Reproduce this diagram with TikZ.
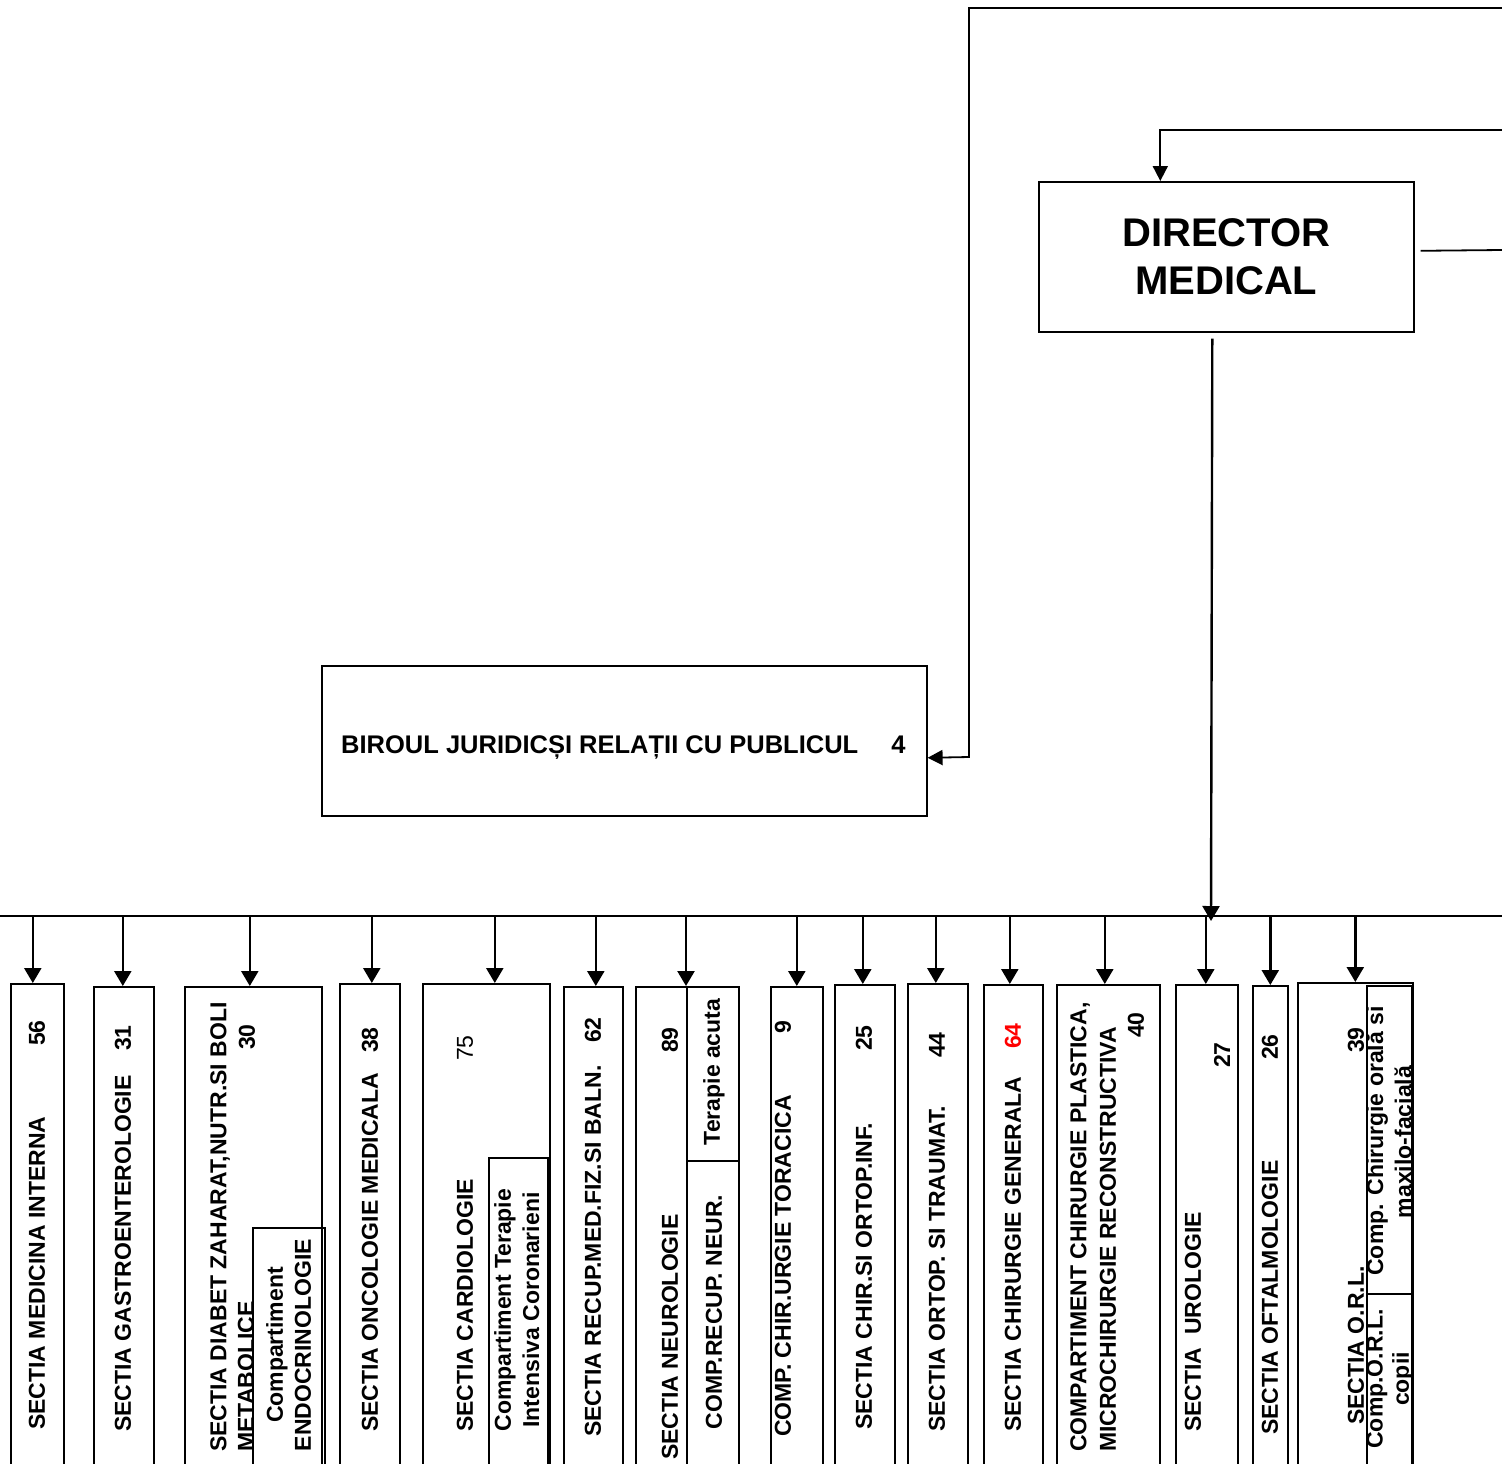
\documentclass[tikz,border=0pt]{standalone}
\usepackage{fontspec}
\setmainfont{Liberation Sans}
\usepackage{xcolor}
\definecolor{org-black}{HTML}{000000}
\definecolor{org-red}{HTML}{FF0000}
\usepackage{tikz}
\usetikzlibrary{arrows.meta}

\tikzset{
    unitbox/.style={draw=org-black, line width=1.6pt, inner sep=0pt, anchor=north west},
    vlabel/.style={rotate=90, inner sep=0pt, font=\bfseries\fontsize{23}{26}\selectfont},
    conn/.style={draw=org-black, line width=1.8pt},
    arr/.style={draw=org-black, line width=2.4pt, -{Triangle[length=15pt, width=17pt]}},
    arrsm/.style={conn, -{Triangle[length=15pt, width=15pt]}},
}

\begin{document}
\begin{tikzpicture}[x=1pt, y=-1pt]

    % Page
    \useasboundingbox (0,0) rectangle (1502,1464);
    \clip (0,0) rectangle (1502,1464);

    % Director medical
    \node[unitbox, minimum width=375pt, minimum height=150pt, align=center,
          font=\bfseries\fontsize{40}{48}\selectfont] (dirmed) at (1038,181) {DIRECTOR\\MEDICAL};

    % Biroul juridic
    \node[unitbox, minimum width=605pt, minimum height=150pt] (birou) at (321,665) {};
    \node[anchor=west, inner sep=0pt, text depth=0pt, font=\bfseries\fontsize{25.5}{30}\selectfont]
          (birou-l) at (341,745) {BIROUL JURIDICȘI RELAȚII CU PUBLICUL\hspace{33pt}4};

    % Lines from the right edge
    \coordinate (edge-top) at (1502,8);
    \coordinate (edge-mid) at (1502,130);
    \coordinate (edge-dir) at (1502,250);
    \coordinate (bend-top) at (969,8);
    \coordinate (bend-low) at (969,757);
    \coordinate (dir-in) at ([xshift=-66pt]dirmed.north);
    \coordinate (dir-out) at ([xshift=-14pt,yshift=-6pt]dirmed.south);
    \coordinate (bus) at (0,916);
    \coordinate (bus-end) at (1502,916);
    \coordinate (bus-in) at (1211,921);

    \draw[arrsm] (edge-top) -- (bend-top) -- (bend-low) -- ([yshift=-17pt]birou.east);
    \draw[arrsm] (edge-mid) -| (dir-in);
    \draw[conn] ([xshift=6pt,yshift=6pt]dirmed.east) -- (edge-dir);
    \draw[arr] (dir-out) -- (bus-in);
    \draw[conn] (bus) -- (bus-end);

    % Sections
    \node[unitbox, minimum width=53pt, minimum height=500pt] (mi) at (10,983) {};
    \node[unitbox, minimum width=60pt, minimum height=500pt] (gastro) at (93,986) {};
    \node[unitbox, minimum width=137pt, minimum height=500pt] (diabet) at (184,986) {};
    \node[unitbox, minimum width=72pt, minimum height=260pt] (endo) at (252,1227) {};
    \node[unitbox, minimum width=60pt, minimum height=500pt] (onco) at (339,983) {};
    \node[unitbox, minimum width=127pt, minimum height=500pt] (cardio) at (422,983) {};
    \node[unitbox, minimum width=59pt, minimum height=330pt] (ticor) at (488,1157) {};
    \node[unitbox, minimum width=59pt, minimum height=500pt] (recup) at (563,986) {};
    \node[unitbox, minimum width=103pt, minimum height=500pt] (neuro) at (635,986) {};
    \node[unitbox, minimum width=52pt, minimum height=174pt] (acuta) at (686,986) {};
    \node[unitbox, minimum width=52pt, minimum height=330pt] (recneur) at (686,1160) {};
    \node[unitbox, minimum width=52pt, minimum height=500pt] (torac) at (770,986) {};
    \node[unitbox, minimum width=60pt, minimum height=500pt] (ortinf) at (834,984) {};
    \node[unitbox, minimum width=60pt, minimum height=500pt] (traum) at (907,983) {};
    \node[unitbox, minimum width=59pt, minimum height=500pt] (chirgen) at (983,984) {};
    \node[unitbox, minimum width=103pt, minimum height=500pt] (plast) at (1056,984) {};
    \node[unitbox, minimum width=62pt, minimum height=500pt] (uro) at (1175,984) {};
    \node[unitbox, minimum width=35pt, minimum height=500pt] (oftal) at (1252,985) {};
    \node[unitbox, minimum width=115pt, minimum height=500pt] (orl) at (1297,982) {};
    \node[unitbox, minimum width=45pt, minimum height=308pt] (maxilo) at (1366,985) {};
    \node[unitbox, minimum width=45pt, minimum height=200pt] (orlcopii) at (1366,1293) {};

    % Arrows from the bus
    \foreach \sec/\dx in {mi.north/-4.5, gastro.north/-1, diabet.north/-3.5, onco.north/2,
                          cardio.north/8.5, recup.north/2.5, acuta.north west/0,
                          torac.north/0, ortinf.north/-2, traum.north/-2, chirgen.north/-3.5,
                          plast.north/-3.5, uro.north/-1, oftal.north/0, orl.north/0} {
        \coordinate (tip) at ([xshift=\dx pt]\sec);
        \draw[arr] (tip |- bus) -- (tip);
    }

    % Labels
    \node[vlabel, anchor=west] (mi-l) at (37,1430) {SECTIA MEDICINA INTERNA};
    \node[vlabel] (mi-n) at (37,1033) {56};
    \node[vlabel, anchor=west] (gastro-l) at (123,1432) {SECTIA GASTROENTEROLOGIE};
    \node[vlabel] (gastro-n) at (123,1038) {31};
    \node[vlabel, anchor=west] (diabet-l1) at (220,1452) {SECTIA DIABET ZAHARAT,NUTR.SI BOLI};
    \node[vlabel, anchor=west] (diabet-l2) at (246,1452) {METABOLICE};
    \node[vlabel] (diabet-n) at (247,1037) {30};
    \node[vlabel] (endo-l1) at (277,1345) {Compartiment};
    \node[vlabel] (endo-l2) at (303,1345) {ENDOCRINOLOGIE};
    \node[vlabel, anchor=west] (onco-l) at (370,1432) {SECTIA ONCOLOGIE MEDICALA};
    \node[vlabel] (onco-n) at (370,1040) {38};
    \node[vlabel, anchor=west] (cardio-l) at (465,1432) {SECTIA CARDIOLOGIE};
    \node[vlabel, font=\fontsize{23}{26}\selectfont] (cardio-n) at (465,1048) {75};
    \node[vlabel] (ticor-l1) at (505,1310) {Compartiment Terapie};
    \node[vlabel] (ticor-l2) at (531,1310) {Intensiva Coronarieni};
    \node[vlabel, anchor=west] (recup-l) at (593,1437) {SECTIA RECUP.MED.FIZ.SI BALN.};
    \node[vlabel] (recup-n) at (593,1030) {62};
    \node[vlabel, anchor=west] (neuro-l) at (670,1460) {SECTIA NEUROLOGIE};
    \node[vlabel] (neuro-n) at (670,1040) {89};
    \node[vlabel] (acuta-l) at (714,1072) {Terapie acuta};
    \node[vlabel] (recneur-l) at (714,1312) {COMP.RECUP. NEUR.};
    \node[vlabel, anchor=west] (torac-l) at (783,1437) {COMP. CHIR.URGIE TORACICA};
    \node[vlabel] (torac-n) at (783,1027) {9};
    \node[vlabel, anchor=west] (ortinf-l) at (864,1430) {SECTIA CHIR.SI ORTOP.INF.};
    \node[vlabel] (ortinf-n) at (864,1038) {25};
    \node[vlabel, anchor=west] (traum-l) at (937,1432) {SECTIA ORTOP. SI TRAUMAT.};
    \node[vlabel] (traum-n) at (937,1045) {44};
    \node[vlabel, anchor=west] (chirgen-l) at (1013,1432) {SECTIA CHIRURGIE GENERALA};
    \node[vlabel, text=org-red] (chirgen-n) at (1013,1036) {64};
    \node[vlabel, anchor=west] (plast-l1) at (1080,1452) {COMPARTIMENT CHIRURGIE PLASTICA,};
    \node[vlabel, anchor=west] (plast-l2) at (1108,1452) {MICROCHIRURGIE RECONSTRUCTIVA};
    \node[vlabel] (plast-n) at (1136,1025) {40};
    \node[vlabel, anchor=west] (uro-l) at (1193,1432) {SECTIA\ \ UROLOGIE};
    \node[vlabel] (uro-n) at (1222,1055) {27};
    \node[vlabel, anchor=west] (oftal-l) at (1270,1435) {SECTIA OFTALMOLOGIE};
    \node[vlabel] (oftal-n) at (1270,1047) {26};
    \node[vlabel, anchor=west] (orl-l) at (1356,1425) {SECTIA O.R.L.};
    \node[vlabel] (orl-n) at (1356,1040) {39};
    \node[vlabel] (maxilo-l1) at (1377,1141) {Comp. Chirurgie orală si};
    \node[vlabel] (maxilo-l2) at (1403,1142) {maxilo-facială};
    \node[vlabel] (copii-l1) at (1377,1379) {Comp.O.R.L.};
    \node[vlabel] (copii-l2) at (1403,1379) {copii};

\end{tikzpicture}
\end{document}
